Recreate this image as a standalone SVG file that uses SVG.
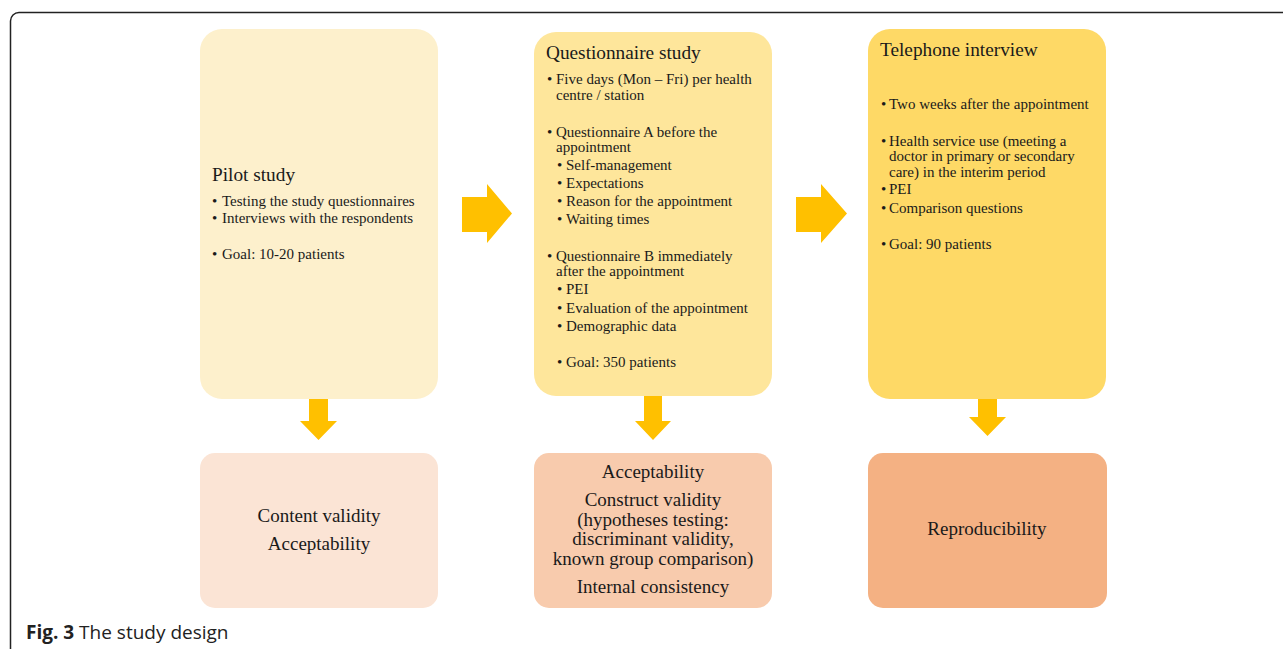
<svg xmlns="http://www.w3.org/2000/svg" width="1283" height="649" viewBox="0 0 1283 649">
<defs>
<style>
.t{font-family:"Liberation Serif","Times New Roman",serif;fill:#1a1a1a;}
.h{font-size:19.3px;}
.b{font-size:15px;}
.r{font-size:19px;text-anchor:middle;}
.arr{fill:#FFC000;}
.cap{font-family:"Open Sans","Noto Sans",sans-serif;font-size:19px;fill:#222;}
</style>
</defs>
<rect width="1283" height="649" fill="#ffffff"/>
<path d="M10.5 649 L10.5 21 A8.5 8.5 0 0 1 19 12.5 L1283 12.5" fill="none" stroke="#222" stroke-width="1.5"/>

<g id="connectors">
<polygon class="arr" points="462,197 487,197 487,184 512,213.5 487,243 487,232 462,232"/>
<polygon class="arr" points="796,197 821,197 821,184 847,213.5 821,243 821,232 796,232"/>
<polygon class="arr" points="309,395 328,395 328,421 337,421 318.5,440 300,421 309,421"/>
<polygon class="arr" points="644,395 662,395 662,421 671,421 653,440 635,421 644,421"/>
<polygon class="arr" points="978,392 997,392 997,417 1006,417 987.5,436 969,417 978,417"/>
</g>

<g id="pilot">
<rect x="200" y="29" width="238" height="370" rx="22" fill="#FDF0CC"/>
<text class="t h" x="212" y="181">Pilot study</text>
<text class="t b" x="212" y="206">•</text><text class="t b" x="222" y="206">Testing the study questionnaires</text>
<text class="t b" x="212" y="223">•</text><text class="t b" x="222" y="223">Interviews with the respondents</text>
<text class="t b" x="212" y="259">•</text><text class="t b" x="222" y="259">Goal: 10-20 patients</text>
</g>

<g id="questionnaire">
<rect x="534" y="32" width="238" height="364" rx="22" fill="#FEE69B"/>
<text class="t h" x="546" y="59">Questionnaire study</text>
<text class="t b" x="547" y="84">•</text><text class="t b" x="556" y="84">Five days (Mon – Fri) per health</text>
<text class="t b" x="556" y="100">centre / station</text>
<text class="t b" x="547" y="137">•</text><text class="t b" x="556" y="137">Questionnaire A before the</text>
<text class="t b" x="556" y="152">appointment</text>
<text class="t b" x="557" y="170">•</text><text class="t b" x="566" y="170">Self-management</text>
<text class="t b" x="557" y="188">•</text><text class="t b" x="566" y="188">Expectations</text>
<text class="t b" x="557" y="206">•</text><text class="t b" x="566" y="206">Reason for the appointment</text>
<text class="t b" x="557" y="224">•</text><text class="t b" x="566" y="224">Waiting times</text>
<text class="t b" x="547" y="261">•</text><text class="t b" x="556" y="261">Questionnaire B immediately</text>
<text class="t b" x="556" y="276">after the appointment</text>
<text class="t b" x="557" y="294">•</text><text class="t b" x="566" y="294">PEI</text>
<text class="t b" x="557" y="313">•</text><text class="t b" x="566" y="313">Evaluation of the appointment</text>
<text class="t b" x="557" y="331">•</text><text class="t b" x="566" y="331">Demographic data</text>
<text class="t b" x="557" y="367">•</text><text class="t b" x="566" y="367">Goal: 350 patients</text>
</g>

<g id="telephone">
<rect x="868" y="29" width="238" height="370" rx="22" fill="#FED966"/>
<text class="t h" x="880" y="56">Telephone interview</text>
<text class="t b" x="881" y="109">•</text><text class="t b" x="889" y="109">Two weeks after the appointment</text>
<text class="t b" x="881" y="146">•</text><text class="t b" x="889" y="146">Health service use (meeting a</text>
<text class="t b" x="889" y="161">doctor in primary or secondary</text>
<text class="t b" x="889" y="177">care) in the interim period</text>
<text class="t b" x="881" y="194">•</text><text class="t b" x="889" y="194">PEI</text>
<text class="t b" x="881" y="213">•</text><text class="t b" x="889" y="213">Comparison questions</text>
<text class="t b" x="881" y="249">•</text><text class="t b" x="889" y="249">Goal: 90 patients</text>
</g>

<g id="outcome-pilot">
<rect x="200" y="453" width="238" height="155" rx="15" fill="#FBE4D5"/>
<text class="t r" x="319" y="522">Content validity</text>
<text class="t r" x="319" y="550">Acceptability</text>
</g>

<g id="outcome-questionnaire">
<rect x="534" y="453" width="238" height="155" rx="15" fill="#F8CBAD"/>
<text class="t r" x="653" y="478">Acceptability</text>
<text class="t r" x="653" y="506">Construct validity</text>
<text class="t r" x="653" y="526">(hypotheses testing:</text>
<text class="t r" x="653" y="545">discriminant validity,</text>
<text class="t r" x="653" y="565">known group comparison)</text>
<text class="t r" x="653" y="593">Internal consistency</text>
</g>

<g id="outcome-telephone">
<rect x="868" y="453" width="239" height="155" rx="15" fill="#F4B183"/>
<text class="t r" x="987" y="535">Reproducibility</text>
</g>

<text class="cap" x="26" y="639"><tspan font-weight="bold">Fig. 3</tspan> The study design</text>
</svg>
